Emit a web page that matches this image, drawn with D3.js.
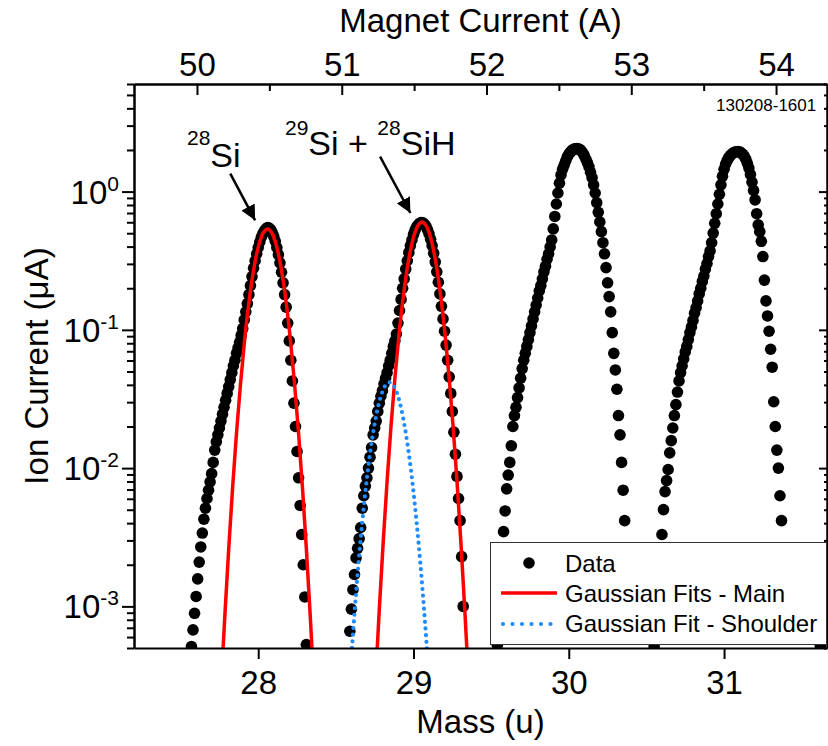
<!DOCTYPE html>
<html>
<head>
<meta charset="utf-8">
<script src="https://cdn.jsdelivr.net/npm/d3@7"></script>
<style>
  body { margin: 0; background: #fff; }
  svg { font-family: "Liberation Sans", Arial, sans-serif; }
</style>
</head>
<body>
<svg id="chart" width="828" height="746"></svg>
<script>
// measured data: [mass (u), ion current (uA)]
var peak28Si = [
  [27.57, 5.13e-4], [27.58, 6.76e-4], [27.59, 8.91e-4], [27.60, 1.18e-3], [27.61, 1.58e-3],
  [27.62, 2.09e-3], [27.63, 2.69e-3], [27.64, 3.39e-3], [27.65, 4.27e-3], [27.66, 5.13e-3],
  [27.67, 6.03e-3], [27.68, 6.92e-3], [27.69, 7.94e-3], [27.70, 9.12e-3], [27.71, 1.10e-2],
  [27.72, 1.35e-2], [27.73, 1.55e-2], [27.74, 1.74e-2], [27.75, 1.95e-2], [27.76, 2.19e-2],
  [27.77, 2.45e-2], [27.78, 2.75e-2], [27.79, 3.09e-2], [27.80, 3.47e-2], [27.81, 3.89e-2],
  [27.82, 4.37e-2], [27.83, 4.90e-2], [27.84, 5.50e-2], [27.85, 6.03e-2], [27.86, 6.76e-2],
  [27.87, 7.41e-2], [27.88, 8.13e-2], [27.89, 9.12e-2], [27.90, 0.102], [27.91, 0.118],
  [27.92, 0.135], [27.93, 0.155], [27.94, 0.180], [27.95, 0.209], [27.96, 0.243],
  [27.97, 0.279], [27.98, 0.316], [27.99, 0.355], [28.00, 0.394], [28.01, 0.432],
  [28.02, 0.468], [28.03, 0.497], [28.04, 0.519], [28.05, 0.538], [28.06, 0.550],
  [28.07, 0.545], [28.08, 0.530], [28.09, 0.506], [28.10, 0.474], [28.11, 0.437],
  [28.12, 0.394], [28.13, 0.350], [28.14, 0.305], [28.15, 0.261], [28.16, 0.219],
  [28.17, 0.180], [28.18, 0.146], [28.19, 0.112], [28.20, 0.0832], [28.21, 0.0603],
  [28.22, 0.0427], [28.23, 0.0295], [28.24, 0.0200], [28.25, 0.0132], [28.26, 0.00851],
  [28.27, 0.00537], [28.28, 0.00331], [28.29, 0.00200], [28.30, 0.00117], [28.31, 0.00053]
];
var peak29Si = [
  [28.59, 6.61e-4], [28.60, 9.55e-4], [28.61, 1.32e-3], [28.62, 1.70e-3], [28.63, 2.24e-3],
  [28.64, 2.63e-3], [28.65, 3.09e-3], [28.66, 3.72e-3], [28.67, 5.13e-3], [28.68, 6.31e-3],
  [28.69, 7.41e-3], [28.70, 8.51e-3], [28.71, 1.00e-2], [28.72, 1.20e-2], [28.73, 1.41e-2],
  [28.74, 1.74e-2], [28.75, 1.95e-2], [28.76, 2.19e-2], [28.77, 2.57e-2], [28.78, 2.95e-2],
  [28.79, 3.31e-2], [28.80, 3.63e-2], [28.81, 4.07e-2], [28.82, 4.47e-2], [28.83, 4.90e-2],
  [28.84, 5.50e-2], [28.85, 6.03e-2], [28.86, 6.76e-2], [28.87, 7.59e-2], [28.88, 8.32e-2],
  [28.89, 9.33e-2], [28.90, 0.112], [28.91, 0.138], [28.92, 0.166], [28.93, 0.200],
  [28.94, 0.234], [28.95, 0.275], [28.96, 0.316], [28.97, 0.363], [28.98, 0.407],
  [28.99, 0.447], [29.00, 0.490], [29.01, 0.525], [29.02, 0.556], [29.03, 0.575],
  [29.04, 0.589], [29.05, 0.596], [29.06, 0.594], [29.07, 0.582], [29.08, 0.562],
  [29.09, 0.531], [29.10, 0.495], [29.11, 0.452], [29.12, 0.407], [29.13, 0.359],
  [29.14, 0.309], [29.15, 0.263], [29.16, 0.221], [29.17, 0.182], [29.18, 0.148],
  [29.19, 0.120], [29.20, 0.0977], [29.21, 0.0776], [29.22, 0.0603], [29.23, 0.0457],
  [29.24, 0.0347], [29.25, 0.0257], [29.26, 0.0182], [29.27, 0.0126], [29.28, 0.00871],
  [29.29, 0.00603], [29.30, 0.00417], [29.31, 0.00229], [29.32, 0.00100], [29.33, 0.000355]
];
var peak30 = [
  [29.54, 5.25e-4], [29.55, 8.91e-4], [29.56, 1.41e-3], [29.57, 2.24e-3], [29.58, 3.47e-3],
  [29.59, 4.90e-3], [29.60, 7.08e-3], [29.61, 8.91e-3], [29.62, 1.10e-2], [29.63, 1.45e-2],
  [29.64, 2.00e-2], [29.65, 2.40e-2], [29.66, 2.75e-2], [29.67, 3.24e-2], [29.68, 3.80e-2],
  [29.69, 4.47e-2], [29.70, 5.25e-2], [29.71, 6.03e-2], [29.72, 6.76e-2], [29.73, 7.59e-2],
  [29.74, 8.51e-2], [29.75, 9.55e-2], [29.76, 0.107], [29.77, 0.120], [29.78, 0.135],
  [29.79, 0.151], [29.80, 0.170], [29.81, 0.191], [29.82, 0.209], [29.83, 0.234],
  [29.84, 0.263], [29.85, 0.288], [29.86, 0.324], [29.87, 0.355], [29.88, 0.398],
  [29.89, 0.447], [29.90, 0.537], [29.91, 0.661], [29.92, 0.813], [29.93, 0.977],
  [29.94, 1.15], [29.95, 1.32], [29.96, 1.45], [29.97, 1.55], [29.98, 1.66],
  [29.99, 1.78], [30.00, 1.86], [30.01, 1.93], [30.02, 1.98], [30.03, 2.02],
  [30.04, 2.04], [30.05, 2.05], [30.06, 2.04], [30.07, 2.02], [30.08, 1.97],
  [30.09, 1.91], [30.10, 1.82], [30.11, 1.72], [30.12, 1.62], [30.13, 1.51],
  [30.14, 1.38], [30.15, 1.26], [30.16, 1.12], [30.17, 0.977], [30.18, 0.832],
  [30.19, 0.708], [30.20, 0.603], [30.21, 0.513], [30.22, 0.427], [30.23, 0.355],
  [30.24, 0.282], [30.25, 0.219], [30.26, 0.174], [30.27, 0.135], [30.28, 0.0955],
  [30.29, 0.0676], [30.30, 0.0513], [30.31, 0.0372], [30.32, 0.0240], [30.33, 0.0174],
  [30.34, 0.0110], [30.35, 0.00692], [30.36, 0.00417], [30.37, 0.00200], [30.38, 0.000631]
];
var peak31 = [
  [30.55, 5.13e-4], [30.56, 7.59e-4], [30.57, 1.12e-3], [30.58, 1.66e-3], [30.59, 2.40e-3],
  [30.60, 3.31e-3], [30.61, 5.01e-3], [30.62, 6.76e-3], [30.63, 8.13e-3], [30.64, 9.77e-3],
  [30.65, 1.29e-2], [30.66, 1.58e-2], [30.67, 1.95e-2], [30.68, 2.40e-2], [30.69, 2.88e-2],
  [30.70, 3.55e-2], [30.71, 4.27e-2], [30.72, 4.90e-2], [30.73, 5.50e-2], [30.74, 6.17e-2],
  [30.75, 6.92e-2], [30.76, 7.59e-2], [30.77, 8.51e-2], [30.78, 9.55e-2], [30.79, 0.105],
  [30.80, 0.117], [30.81, 0.132], [30.82, 0.145], [30.83, 0.162], [30.84, 0.182],
  [30.85, 0.200], [30.86, 0.224], [30.87, 0.245], [30.88, 0.275], [30.89, 0.302],
  [30.90, 0.339], [30.91, 0.372], [30.92, 0.427], [30.93, 0.501], [30.94, 0.589],
  [30.95, 0.692], [30.96, 0.813], [30.97, 0.955], [30.98, 1.12], [30.99, 1.29],
  [31.00, 1.45], [31.01, 1.58], [31.02, 1.68], [31.03, 1.76], [31.04, 1.82],
  [31.05, 1.87], [31.06, 1.91], [31.07, 1.93], [31.08, 1.94], [31.09, 1.95],
  [31.10, 1.94], [31.11, 1.91], [31.12, 1.86], [31.13, 1.80], [31.14, 1.72],
  [31.15, 1.60], [31.16, 1.48], [31.17, 1.33], [31.18, 1.17], [31.19, 1.02],
  [31.20, 0.871], [31.21, 0.692], [31.22, 0.575], [31.23, 0.513], [31.24, 0.437],
  [31.25, 0.339], [31.26, 0.229], [31.27, 0.162], [31.28, 0.126], [31.29, 0.0977],
  [31.30, 0.0724], [31.31, 0.0537], [31.32, 0.0302], [31.33, 0.0200], [31.34, 0.0135],
  [31.35, 0.0100], [31.36, 0.00631], [31.37, 0.00417], [31.38, 0.00200], [31.39, 0.000794]
];
var nextPeakStart = [[31.62, 5.2e-4]];

// Gaussian fits
var fitMainMass1 = [27.76, 27.785, 27.81, 27.835, 27.86, 27.885, 27.91, 27.935, 27.96, 27.985, 28.01, 28.035,
  28.06, 28.085, 28.11, 28.135, 28.16, 28.185, 28.21, 28.235, 28.26, 28.285, 28.31, 28.335, 28.36];
var fitMainCurrent1 = [0.000251, 0.000855, 0.00262, 0.00719, 0.0178, 0.0395, 0.0790, 0.142, 0.229, 0.333, 0.434, 0.509,
  0.537, 0.509, 0.434, 0.333, 0.229, 0.142, 0.0790, 0.0395, 0.0178, 0.00719, 0.00262, 0.000855, 0.000251];
var fitMainMass2 = [28.755, 28.78, 28.805, 28.83, 28.855, 28.88, 28.905, 28.93, 28.955, 28.98, 29.005, 29.03,
  29.055, 29.08, 29.105, 29.13, 29.155, 29.18, 29.205, 29.23, 29.255, 29.28, 29.305, 29.33, 29.355];
var fitMainCurrent2 = [0.000282, 0.000959, 0.00293, 0.00807, 0.0200, 0.0444, 0.0886, 0.159, 0.257, 0.373, 0.487, 0.571,
  0.603, 0.571, 0.487, 0.373, 0.257, 0.159, 0.0886, 0.0444, 0.0200, 0.00807, 0.00293, 0.000959, 0.000282];
var fitShoulderMass = [28.595, 28.62, 28.645, 28.67, 28.695, 28.72, 28.745, 28.77, 28.795, 28.82, 28.845,
  28.87, 28.895, 28.92, 28.945, 28.97, 28.995, 29.02, 29.045, 29.07, 29.095];
var fitShoulderCurrent = [0.000361, 0.000889, 0.00200, 0.00406, 0.00754, 0.0127, 0.0195, 0.0272, 0.0345, 0.0397, 0.0417,
  0.0397, 0.0345, 0.0272, 0.0195, 0.0127, 0.00754, 0.00406, 0.00200, 0.000889, 0.000361];

var massTicks = [28, 29, 30, 31];
var currentTicks = [50, 51, 52, 53, 54];
var currentMinorTicks = [50.5, 51.5, 52.5, 53.5];
var ionTicks = [1e-3, 1e-2, 1e-1, 1];
var ionTickLabels = ["-3", "-2", "-1", "0"];

function drawChart() {
  var svg = d3.select("#chart");
  var pl = 134, pr = 827, pt = 84, pb = 648;

  var x = d3.scaleLinear().domain([27.2, 31.663]).range([pl, pr]);
  var xTop = d3.scaleLinear().domain([49.565, 54.352]).range([pl, pr]);
  var y = d3.scaleLog().domain([5e-4, 6]).range([pb, pt]);

  var minorY = y.ticks().filter(function(v) {
    var l = Math.log10(v);
    return Math.abs(l - Math.round(l)) > 1e-6;
  });

  svg.append("clipPath").attr("id", "plotclip")
    .append("rect").attr("x", pl).attr("y", pt)
    .attr("width", pr - pl).attr("height", pb - pt);

  var plot = svg.append("g").attr("clip-path", "url(#plotclip)");

  // data dots
  var allData = peak28Si.concat(peak29Si, peak30, peak31, nextPeakStart);
  plot.selectAll("circle.data")
    .data(allData)
    .enter().append("circle")
    .attr("class", "data")
    .attr("cx", function(d) { return x(d[0]); })
    .attr("cy", function(d) { return y(d[1]); })
    .attr("r", 5.8)
    .attr("fill", "#000");

  var line = d3.line()
    .x(function(d) { return x(d[0]); })
    .y(function(d) { return y(d[1]); })
    .curve(d3.curveCatmullRom);

  function pairs(ms, vs) { return ms.map(function(m, i) { return [m, vs[i]]; }); }

  [pairs(fitMainMass1, fitMainCurrent1), pairs(fitMainMass2, fitMainCurrent2)].forEach(function(f) {
    plot.append("path").attr("d", line(f))
      .attr("fill", "none").attr("stroke", "#ff0000").attr("stroke-width", 3.5);
  });
  plot.append("path").attr("d", line(pairs(fitShoulderMass, fitShoulderCurrent)))
    .attr("fill", "none").attr("stroke", "#1e8cff").attr("stroke-width", 4.2)
    .attr("stroke-linecap", "round").attr("stroke-dasharray", "0 6.6");

  // axes
  function styleAxis(g) {
    g.selectAll("path.domain").attr("stroke", "#000").attr("stroke-width", 2);
    g.selectAll(".tick line").attr("stroke", "#000").attr("stroke-width", 2);
    g.selectAll(".tick text").attr("fill", "#000").attr("font-family", "Liberation Sans, Arial, sans-serif");
  }

  var gBottom = svg.append("g").attr("transform", "translate(0," + pb + ")")
    .call(d3.axisBottom(x).tickValues(massTicks).tickSize(11).tickSizeOuter(0).tickPadding(11.5).tickFormat(d3.format("d")));
  gBottom.selectAll(".tick text").attr("font-size", 33);
  styleAxis(gBottom);

  var gTop = svg.append("g").attr("transform", "translate(0," + pt + ")")
    .call(d3.axisTop(xTop).tickValues(currentTicks).tickSize(-11).tickSizeOuter(0).tickPadding(8).tickFormat(d3.format("d")));
  gTop.selectAll(".tick text").attr("font-size", 33);
  styleAxis(gTop);
  var gTopMinor = svg.append("g").attr("transform", "translate(0," + pt + ")")
    .call(d3.axisTop(xTop).tickValues(currentMinorTicks).tickSize(-7).tickSizeOuter(0).tickFormat(""));
  styleAxis(gTopMinor);

  var gLeft = svg.append("g").attr("transform", "translate(" + pl + ",0)")
    .call(d3.axisLeft(y).tickValues(ionTicks).tickSize(12).tickSizeOuter(0).tickFormat(""));
  styleAxis(gLeft);
  var gLeftMinor = svg.append("g").attr("transform", "translate(" + pl + ",0)")
    .call(d3.axisLeft(y).tickValues(minorY).tickSize(7).tickSizeOuter(0).tickFormat(""));
  styleAxis(gLeftMinor);

  var gRight = svg.append("g").attr("transform", "translate(" + pr + ",0)")
    .call(d3.axisRight(y).tickValues(ionTicks).tickSize(-8).tickSizeOuter(0).tickFormat(""));
  styleAxis(gRight);
  var gRightMinor = svg.append("g").attr("transform", "translate(" + pr + ",0)")
    .call(d3.axisRight(y).tickValues(minorY).tickSize(-3).tickSizeOuter(0).tickFormat(""));
  styleAxis(gRightMinor);

  // log labels 10^n
  var yl = svg.append("g");
  ionTicks.forEach(function(v, i) {
    var t = yl.append("text")
      .attr("x", 119).attr("y", y(v) + 12)
      .attr("text-anchor", "end").attr("font-size", 33);
    t.append("tspan").text("10");
    t.append("tspan").attr("dy", -13).attr("font-size", 21).text(ionTickLabels[i]);
  });

  // axis titles
  svg.append("text").attr("x", (pl + pr) / 2).attr("y", 32)
    .attr("text-anchor", "middle").attr("font-size", 33).text("Magnet Current (A)");
  svg.append("text").attr("x", (pl + pr) / 2).attr("y", 733)
    .attr("text-anchor", "middle").attr("font-size", 33).text("Mass (u)");
  svg.append("text")
    .attr("transform", "translate(48," + (pt + pb) / 2 + ") rotate(-90)")
    .attr("text-anchor", "middle").attr("font-size", 33).text("Ion Current (\u03bcA)");

  svg.append("text").attr("x", 716).attr("y", 111).attr("font-size", 17).text("130208-1601");

  // peak annotations
  svg.append("defs").append("marker")
    .attr("id", "arrow").attr("viewBox", "0 0 10 10").attr("refX", 10).attr("refY", 5)
    .attr("markerWidth", 6).attr("markerHeight", 6).attr("markerUnits", "strokeWidth")
    .attr("orient", "auto")
    .append("path").attr("d", "M0,0L10,5L0,10Z").attr("fill", "#000");

  var arrows = [
    { from: [27.82, 1.35], to: [27.98, 0.62] },
    { from: [28.785, 1.79], to: [28.98, 0.70] }
  ];
  arrows.forEach(function(a) {
    svg.append("line")
      .attr("x1", x(a.from[0])).attr("y1", y(a.from[1]))
      .attr("x2", x(a.to[0])).attr("y2", y(a.to[1]))
      .attr("stroke", "#000").attr("stroke-width", 2.5)
      .attr("marker-end", "url(#arrow)");
  });

  var lab1 = svg.append("text").attr("x", 187).attr("y", 167).attr("font-size", 34);
  lab1.append("tspan").attr("font-size", 21).attr("dy", -22).text("28");
  lab1.append("tspan").attr("dy", 22).text("Si");

  var lab2 = svg.append("text").attr("x", 285).attr("y", 155).attr("font-size", 34);
  lab2.append("tspan").attr("font-size", 21).attr("dy", -20).text("29");
  lab2.append("tspan").attr("dy", 20).text("Si + ");
  lab2.append("tspan").attr("font-size", 21).attr("dy", -20).text("28");
  lab2.append("tspan").attr("dy", 20).text("SiH");

  // legend
  var lg = svg.append("g");
  lg.append("rect").attr("x", 490.5).attr("y", 542.5).attr("width", 336).attr("height", 102)
    .attr("fill", "#fff").attr("stroke", "#333").attr("stroke-width", 1);
  lg.append("circle").attr("cx", 529).attr("cy", 563).attr("r", 5.8).attr("fill", "#000");
  lg.append("line").attr("x1", 501).attr("x2", 557).attr("y1", 593).attr("y2", 593)
    .attr("stroke", "#ff0000").attr("stroke-width", 3.5);
  lg.append("line").attr("x1", 503).attr("x2", 557).attr("y1", 624).attr("y2", 624)
    .attr("stroke", "#1e8cff").attr("stroke-width", 4.2)
    .attr("stroke-linecap", "round").attr("stroke-dasharray", "0 9.5");
  [["Data", 572], ["Gaussian Fits - Main", 602], ["Gaussian Fit - Shoulder", 632]].forEach(function(e) {
    lg.append("text").attr("x", 565).attr("y", e[1]).attr("font-size", 24).text(e[0]);
  });
}

drawChart();
</script>
</body>
</html>
